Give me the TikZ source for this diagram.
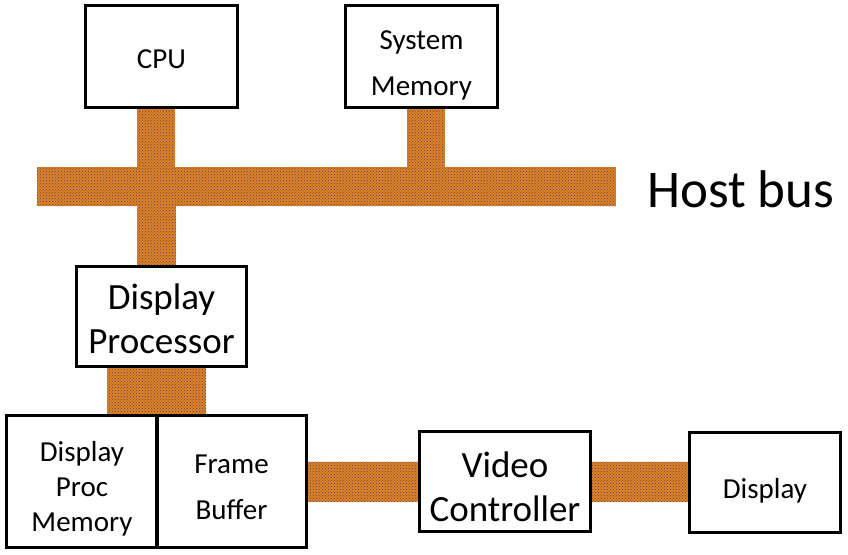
\documentclass[tikz,border=0pt]{standalone}
\usepackage{fontspec}
\setmainfont{Carlito}
\usetikzlibrary{patterns}
\definecolor{busorange}{RGB}{222,130,34}
\definecolor{busdot}{RGB}{95,65,95}
\tikzset{
  box/.style={draw=black, line width=1.8pt, fill=white, inner sep=0pt},
  lbl/.style={align=center, inner sep=0pt},
  smalltext/.style={font=\fontsize{29}{35}\selectfont},
  widetext/.style={font=\fontsize{29}{46}\selectfont},
  bigtext/.style={font=\fontsize{37}{44}\selectfont},
  busbar/.style={preaction={fill=busorange}, pattern=crosshatch dots, pattern color=busdot},
}
\begin{document}
\begin{tikzpicture}[x=1pt,y=-1pt]
\useasboundingbox (0,0) rectangle (848,554);
% boxes
\node[box, minimum width=151pt, minimum height=101pt] (cpu) at (161.5,56.5) {};
\node[box, minimum width=151pt, minimum height=101pt] (mem) at (421.5,56.5) {};
\node[busbar, minimum width=579pt, minimum height=39pt, inner sep=0pt] (bus) at (326.5,186.5) {};
\node[font=\fontsize{53}{60}\selectfont, anchor=west, inner sep=0pt] (buslabel) at (647,189) {Host bus};
\node[box, minimum width=169pt, minimum height=99pt] (dp) at (161.5,316.5) {};
\node[box, minimum width=150pt, minimum height=131pt] (dpm) at (82,481.5) {};
\node[box, minimum width=149pt, minimum height=131pt] (fb) at (231.5,481.5) {};
\node[box, minimum width=170pt, minimum height=99pt] (vc) at (505,481.5) {};
\node[box, minimum width=150pt, minimum height=99pt] (disp) at (765,482.5) {};
% labels
\node[lbl, smalltext] (cpu-t) at ([yshift=-3pt]cpu.center) {CPU};
\node[lbl, widetext] (mem-t) at ([yshift=-9pt]mem.center) {System\\Memory};
\node[lbl, bigtext] (dp-t) at ([yshift=-2.5pt]dp.center) {Display\\Processor};
\node[lbl, smalltext] (dpm-t) at ([yshift=-7.5pt]dpm.center) {Display\\Proc\\Memory};
\node[lbl, widetext] (fb-t) at ([yshift=-5.5pt]fb.center) {Frame\\Buffer};
\node[lbl, bigtext] (vc-t) at ([yshift=-5pt]vc.center) {Video\\Controller};
\node[lbl, smalltext] (disp-t) at ([yshift=-8pt]disp.center) {Display};
% stubs and buses
\fill[busbar] ([xshift=-24.5pt]cpu.south) rectangle ([xshift=13.5pt]cpu.south |- bus.north);
\fill[busbar] ([xshift=-14.5pt]mem.south) rectangle ([xshift=23.5pt]mem.south |- bus.north);
\fill[busbar] ([xshift=-24.5pt]dp.north) rectangle ([xshift=14.5pt]dp.north |- bus.south);
\fill[busbar] ([xshift=-54.5pt]dp.south) rectangle ([xshift=44.5pt]dp.south |- fb.north);
\fill[busbar] ([yshift=-20pt]fb.east) rectangle ([yshift=20pt]fb.east -| vc.west);
\fill[busbar] ([yshift=-20pt]vc.east) rectangle ([yshift=20pt]vc.east -| disp.west);
% redraw box borders over bars
\foreach \n in {cpu,mem,dp,dpm,fb,vc,disp}{
  \draw[line width=1.8pt] (\n.south west) rectangle (\n.north east);
}
\end{tikzpicture}
\end{document}
